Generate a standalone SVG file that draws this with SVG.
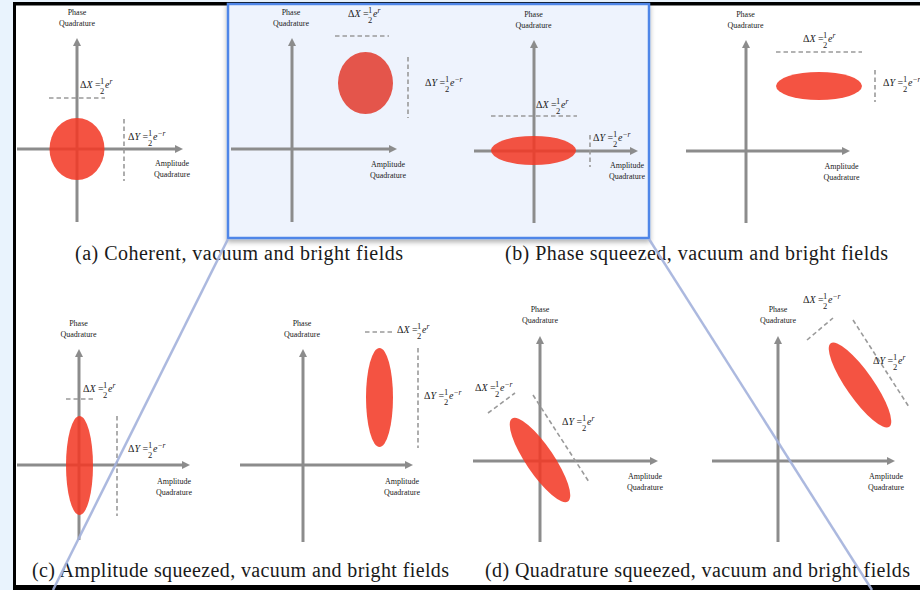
<svg xmlns="http://www.w3.org/2000/svg" width="920" height="590" viewBox="0 0 920 590">
<style>
.ax{stroke:#8c8c8c;stroke-width:3;fill:none;marker-end:url(#ah)}
.ds{stroke:#9a9a9a;stroke-width:1.6;stroke-dasharray:4.5 3;fill:none}
.bl{fill:#f23a26;fill-opacity:0.87}
.bl2{fill:#e4554b}
.ql{font-family:"Liberation Serif","Times New Roman",serif;font-size:8px;fill:#222;text-anchor:middle}
.m{font-family:"Liberation Serif","Times New Roman",serif;font-size:10px;fill:#222}
.f{font-family:"Liberation Serif","Times New Roman",serif;font-size:8.5px;fill:#222;text-anchor:middle}
.s{font-family:"Liberation Serif","Times New Roman",serif;font-size:7.5px;fill:#222;font-style:italic}
.i{font-style:italic}
.cap{font-family:"Liberation Serif","Times New Roman",serif;font-size:20px;fill:#1a1a1a}
.cn{stroke:#a3b1db;stroke-width:2.5;fill:none;opacity:0.9}
</style>
<defs>
<marker id="ah" markerWidth="9" markerHeight="8" refX="1" refY="4" orient="auto" markerUnits="userSpaceOnUse">
<path d="M0,0 L8,4 L0,8 z" fill="#8c8c8c"/>
</marker>
<filter id="sh" x="-5%" y="-5%" width="110%" height="115%">
<feDropShadow dx="0" dy="3" stdDeviation="2.5" flood-color="#000" flood-opacity="0.3"/>
</filter>
</defs>
<rect x="0" y="0" width="920" height="590" fill="#e9f3fd"/>
<rect x="13" y="2" width="910" height="590" fill="#000"/>
<rect x="16" y="5.5" width="910" height="579.5" fill="#fff"/>
<rect id="highlight" x="228" y="4" width="421" height="234" fill="#eef3fd" stroke="#4f86e8" stroke-width="2.5" filter="url(#sh)"/>

<g id="panel-a">
<line class="ax" x1="77" y1="222" x2="77" y2="45"/>
<line class="ax" x1="17" y1="149" x2="176" y2="149"/>
<ellipse class="bl" cx="77" cy="149" rx="27.5" ry="31"/>
<line class="ds" x1="49" y1="98" x2="105" y2="98"/>
<line class="ds" x1="124" y1="119" x2="124" y2="181"/>
<text class="ql" x="77" y="15">Phase</text><text class="ql" x="77" y="26">Quadrature</text>
<text class="ql" x="172" y="166">Amplitude</text><text class="ql" x="172" y="177">Quadrature</text>
<g transform="translate(80,88)"><text class="m">Δ<tspan class="i">X</tspan> =</text><text class="f" x="22" y="-4.5">1</text><text class="f" x="22" y="6">2</text><text class="m i" x="25" y="0">e</text><text class="s" x="29.5" y="-4">r</text></g>
<g transform="translate(128,140)"><text class="m">Δ<tspan class="i">Y</tspan> =</text><text class="f" x="22" y="-4.5">1</text><text class="f" x="22" y="6">2</text><text class="m i" x="25" y="0">e</text><text class="s" x="29.5" y="-4">−r</text></g>
<text class="cap" x="75" y="260" textLength="328" lengthAdjust="spacing">(a) Coherent, vacuum and bright fields</text>
</g>

<g id="panel-b-vacuum">
<line class="ax" x1="292" y1="222" x2="292" y2="45"/>
<line class="ax" x1="231" y1="149" x2="390" y2="149"/>
<ellipse class="bl2" cx="365.5" cy="83" rx="27.5" ry="31"/>
<line class="ds" x1="335" y1="36" x2="389" y2="36"/>
<line class="ds" x1="408" y1="57" x2="408" y2="118"/>
<text class="ql" x="291" y="15">Phase</text><text class="ql" x="291" y="26">Quadrature</text>
<text class="ql" x="388" y="167">Amplitude</text><text class="ql" x="388" y="178">Quadrature</text>
<g transform="translate(348,17)"><text class="m">Δ<tspan class="i">X</tspan> =</text><text class="f" x="22" y="-4.5">1</text><text class="f" x="22" y="6">2</text><text class="m i" x="25" y="0">e</text><text class="s" x="29.5" y="-4">r</text></g>
<g transform="translate(425,86)"><text class="m">Δ<tspan class="i">Y</tspan> =</text><text class="f" x="22" y="-4.5">1</text><text class="f" x="22" y="6">2</text><text class="m i" x="25" y="0">e</text><text class="s" x="29.5" y="-4">−r</text></g>
</g>

<g id="panel-b-origin">
<line class="ax" x1="534" y1="223" x2="534" y2="47"/>
<line class="ax" x1="474" y1="151" x2="631" y2="151"/>
<ellipse class="bl" cx="533.5" cy="150.5" rx="42.5" ry="14.5"/>
<line class="ds" x1="491" y1="116" x2="577" y2="116"/>
<line class="ds" x1="590" y1="135" x2="590" y2="167"/>
<text class="ql" x="533.5" y="17">Phase</text><text class="ql" x="533.5" y="28">Quadrature</text>
<text class="ql" x="627" y="168">Amplitude</text><text class="ql" x="627" y="179">Quadrature</text>
<g transform="translate(536,108)"><text class="m">Δ<tspan class="i">X</tspan> =</text><text class="f" x="22" y="-4.5">1</text><text class="f" x="22" y="6">2</text><text class="m i" x="25" y="0">e</text><text class="s" x="29.5" y="-4">r</text></g>
<g transform="translate(593,141)"><text class="m">Δ<tspan class="i">Y</tspan> =</text><text class="f" x="22" y="-4.5">1</text><text class="f" x="22" y="6">2</text><text class="m i" x="25" y="0">e</text><text class="s" x="29.5" y="-4">−r</text></g>
</g>

<g id="panel-b-bright">
<line class="ax" x1="746" y1="223" x2="746" y2="47"/>
<line class="ax" x1="686" y1="151" x2="843" y2="151"/>
<ellipse class="bl" cx="819" cy="86" rx="43" ry="14"/>
<line class="ds" x1="776" y1="52" x2="862" y2="52"/>
<line class="ds" x1="875" y1="70" x2="875" y2="102"/>
<text class="ql" x="745.5" y="17">Phase</text><text class="ql" x="745.5" y="28">Quadrature</text>
<text class="ql" x="841.5" y="169">Amplitude</text><text class="ql" x="841.5" y="180">Quadrature</text>
<g transform="translate(803,42)"><text class="m">Δ<tspan class="i">X</tspan> =</text><text class="f" x="22" y="-4.5">1</text><text class="f" x="22" y="6">2</text><text class="m i" x="25" y="0">e</text><text class="s" x="29.5" y="-4">r</text></g>
<g transform="translate(883,86)"><text class="m">Δ<tspan class="i">Y</tspan> =</text><text class="f" x="22" y="-4.5">1</text><text class="f" x="22" y="6">2</text><text class="m i" x="25" y="0">e</text><text class="s" x="29.5" y="-4">−r</text></g>
<text class="cap" x="505" y="260" textLength="383" lengthAdjust="spacing">(b) Phase squeezed, vacuum and bright fields</text>
</g>

<g id="panel-c-vacuum">
<line class="ax" x1="79" y1="540" x2="79" y2="356"/>
<line class="ax" x1="17" y1="465" x2="183" y2="465"/>
<ellipse class="bl" cx="79.5" cy="465.5" rx="13.5" ry="49.5"/>
<line class="ds" x1="66" y1="399" x2="93" y2="399"/>
<line class="ds" x1="117" y1="416" x2="117" y2="516"/>
<text class="ql" x="78.5" y="326">Phase</text><text class="ql" x="78.5" y="337">Quadrature</text>
<text class="ql" x="174" y="484">Amplitude</text><text class="ql" x="174" y="495">Quadrature</text>
<g transform="translate(83,392)"><text class="m">Δ<tspan class="i">X</tspan> =</text><text class="f" x="22" y="-4.5">1</text><text class="f" x="22" y="6">2</text><text class="m i" x="25" y="0">e</text><text class="s" x="29.5" y="-4">r</text></g>
<g transform="translate(128,452)"><text class="m">Δ<tspan class="i">Y</tspan> =</text><text class="f" x="22" y="-4.5">1</text><text class="f" x="22" y="6">2</text><text class="m i" x="25" y="0">e</text><text class="s" x="29.5" y="-4">−r</text></g>
</g>

<g id="panel-c-bright">
<line class="ax" x1="303" y1="542" x2="303" y2="356"/>
<line class="ax" x1="240" y1="465" x2="406" y2="465"/>
<ellipse class="bl" cx="379.5" cy="397.5" rx="13.5" ry="49.5"/>
<line class="ds" x1="365" y1="332" x2="392" y2="332"/>
<line class="ds" x1="418" y1="348" x2="418" y2="448"/>
<text class="ql" x="302" y="326">Phase</text><text class="ql" x="302" y="337">Quadrature</text>
<text class="ql" x="402" y="484">Amplitude</text><text class="ql" x="402" y="495">Quadrature</text>
<g transform="translate(397,333)"><text class="m">Δ<tspan class="i">X</tspan> =</text><text class="f" x="22" y="-4.5">1</text><text class="f" x="22" y="6">2</text><text class="m i" x="25" y="0">e</text><text class="s" x="29.5" y="-4">r</text></g>
<g transform="translate(424,399)"><text class="m">Δ<tspan class="i">Y</tspan> =</text><text class="f" x="22" y="-4.5">1</text><text class="f" x="22" y="6">2</text><text class="m i" x="25" y="0">e</text><text class="s" x="29.5" y="-4">−r</text></g>
<text class="cap" x="32" y="577" textLength="417" lengthAdjust="spacing">(c) Amplitude squeezed, vacuum and bright fields</text>
</g>

<g id="panel-d-vacuum">
<line class="ax" x1="540" y1="542" x2="540" y2="343"/>
<line class="ax" x1="473" y1="461" x2="651" y2="461"/>
<ellipse class="bl" cx="540" cy="460" rx="50" ry="14" transform="rotate(56 540 460)"/>
<line class="ds" x1="488" y1="413" x2="515" y2="393"/>
<line class="ds" x1="533" y1="395" x2="589" y2="482"/>
<text class="ql" x="540" y="312">Phase</text><text class="ql" x="540" y="323">Quadrature</text>
<text class="ql" x="645" y="479">Amplitude</text><text class="ql" x="645" y="490">Quadrature</text>
<g transform="translate(475,391)"><text class="m">Δ<tspan class="i">X</tspan> =</text><text class="f" x="22" y="-4.5">1</text><text class="f" x="22" y="6">2</text><text class="m i" x="25" y="0">e</text><text class="s" x="29.5" y="-4">−r</text></g>
<g transform="translate(562,425)"><text class="m">Δ<tspan class="i">Y</tspan> =</text><text class="f" x="22" y="-4.5">1</text><text class="f" x="22" y="6">2</text><text class="m i" x="25" y="0">e</text><text class="s" x="29.5" y="-4">r</text></g>
</g>

<g id="panel-d-bright">
<line class="ax" x1="778" y1="542" x2="778" y2="343"/>
<line class="ax" x1="712" y1="461" x2="888" y2="461"/>
<ellipse class="bl" cx="860" cy="385" rx="51" ry="13.5" transform="rotate(55 860 385)"/>
<line class="ds" x1="807" y1="340" x2="833" y2="318"/>
<line class="ds" x1="853" y1="320" x2="909" y2="407"/>
<text class="ql" x="778" y="312">Phase</text><text class="ql" x="778" y="323">Quadrature</text>
<text class="ql" x="886" y="479">Amplitude</text><text class="ql" x="886" y="490">Quadrature</text>
<g transform="translate(803,303)"><text class="m">Δ<tspan class="i">X</tspan> =</text><text class="f" x="22" y="-4.5">1</text><text class="f" x="22" y="6">2</text><text class="m i" x="25" y="0">e</text><text class="s" x="29.5" y="-4">−r</text></g>
<g transform="translate(873,364)"><text class="m">Δ<tspan class="i">Y</tspan> =</text><text class="f" x="22" y="-4.5">1</text><text class="f" x="22" y="6">2</text><text class="m i" x="25" y="0">e</text><text class="s" x="29.5" y="-4">r</text></g>
<text class="cap" x="485" y="577" textLength="425" lengthAdjust="spacing">(d) Quadrature squeezed, vacuum and bright fields</text>
</g>

<g id="connectors">
<line class="cn" x1="228" y1="239" x2="53" y2="590"/>
<line class="cn" x1="649" y1="239" x2="872" y2="590"/>
</g>
</svg>
